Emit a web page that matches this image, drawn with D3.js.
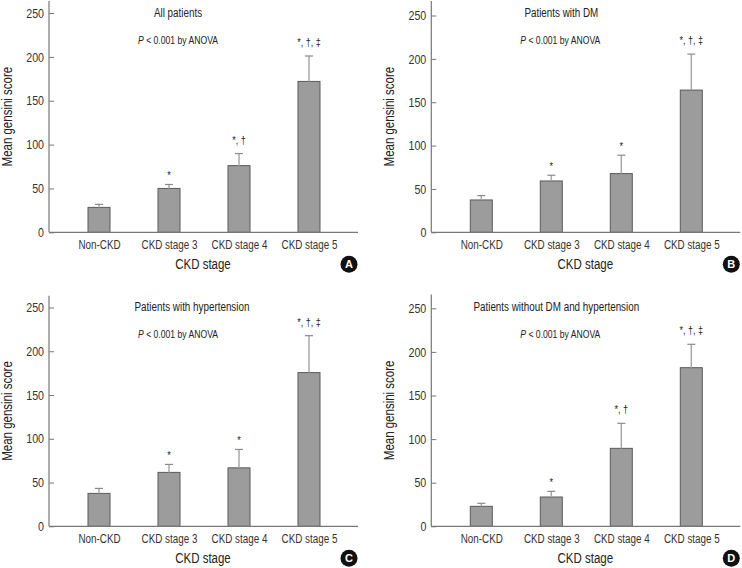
<!DOCTYPE html>
<html>
<head>
<meta charset="utf-8">
<script src="https://cdn.jsdelivr.net/npm/d3@7"></script>
<style>
  html, body { margin: 0; padding: 0; background: #fff; }
  svg { display: block; }
  text { font-family: "Liberation Sans", Arial, sans-serif; fill: #222; }
</style>
</head>
<body>
<svg id="chart" width="742" height="568"></svg>
<script>
// ---- data ----
const categories = ["Non-CKD", "CKD stage 3", "CKD stage 4", "CKD stage 5"];
const yTicks = [0, 50, 100, 150, 200, 250];
const panelTitles = ["All patients", "Patients with DM", "Patients with hypertension", "Patients without DM and hypertension"];
const panelLetters = ["A", "B", "C", "D"];
const pText = "P < 0.001 by ANOVA";
const xTitle = "CKD stage";
const yTitle = "Mean gensini score";

const meanA = [28.4, 50, 76, 172];
const errA  = [3.4, 4.5, 13.8, 29];
const sigA  = ["", "*", "*, †", "*, †, ‡"];

const meanB = [37.3, 59.2, 67.7, 164];
const errB  = [5, 6.6, 21.2, 41.5];
const sigB  = ["", "*", "*", "*, †, ‡"];

const meanC = [37.6, 61.6, 66.8, 175.6];
const errC  = [5.7, 9.1, 21, 42.2];
const sigC  = ["", "*", "*", "*, †, ‡"];

const meanD = [22.9, 33.6, 89.4, 181.9];
const errD  = [3.5, 6.5, 28.7, 26.8];
const sigD  = ["", "*", "*, †", "*, †, ‡"];

const panelMeans = [meanA, meanB, meanC, meanD];
const panelErrs  = [errA, errB, errC, errD];
const panelSigs  = [sigA, sigB, sigC, sigD];

// ---- layout ----
const geom = [
  { x: 49,    y0: 232.3, yTop: 13,    axisTop: 1,     titleDx: 129 },
  { x: 431.3, y0: 232.3, yTop: 15.5,  axisTop: 1,     titleDx: 130 },
  { x: 49,    y0: 526.3, yTop: 307.5, axisTop: 295.7, titleDx: 143 },
  { x: 431.3, y0: 526.3, yTop: 308.3, axisTop: 294.5, titleDx: 125 }
];
const axisLen = 309;
const barW = 22;
const capW = 8;
const condense = 0.82;

const svg = d3.select("#chart");

geom.forEach((g, i) => {
  const means = panelMeans[i], errs = panelErrs[i], sigs = panelSigs[i];
  const y = d3.scaleLinear().domain([0, 250]).range([g.y0, g.yTop]);
  const x = d3.scalePoint().domain(categories).range([g.x + 15, g.x + 295]).padding(0.5);
  const p = svg.append("g");

  // bars
  p.selectAll("rect.bar").data(categories).join("rect")
    .attr("x", d => x(d) - barW / 2)
    .attr("y", (d, j) => y(means[j]))
    .attr("width", barW)
    .attr("height", (d, j) => y(0) - y(means[j]))
    .attr("fill", "#9c9c9c")
    .attr("stroke", "#5a5a5a")
    .attr("stroke-width", 1);

  // error bars (upper only)
  p.selectAll("line.err").data(categories).join("line")
    .attr("x1", d => x(d)).attr("x2", d => x(d))
    .attr("y1", (d, j) => y(means[j]))
    .attr("y2", (d, j) => y(means[j] + errs[j]))
    .attr("stroke", "#a8a8a8").attr("stroke-width", 1.5);
  p.selectAll("line.cap").data(categories).join("line")
    .attr("x1", d => x(d) - capW / 2).attr("x2", d => x(d) + capW / 2)
    .attr("y1", (d, j) => y(means[j] + errs[j]))
    .attr("y2", (d, j) => y(means[j] + errs[j]))
    .attr("stroke", "#8a8a8a").attr("stroke-width", 1.2);

  // significance marks
  p.selectAll("text.sig").data(categories).join("text")
    .attr("class", "sig")
    .attr("x", d => x(d))
    .attr("y", (d, j) => y(means[j] + errs[j]) - (sigs[j].length > 1 ? 10 : 5))
    .attr("text-anchor", "middle")
    .style("font-size", "11px")
    .style("fill", "#222")
    .text((d, j) => sigs[j]);

  // y axis
  const yAxis = d3.axisLeft(y).tickValues(yTicks).tickSize(-5).tickPadding(5).tickFormat(d3.format("d"));
  const ya = p.append("g").attr("transform", `translate(${g.x},0)`).call(yAxis);
  ya.select(".domain").remove();
  ya.selectAll(".tick line").attr("stroke", "#777");
  ya.selectAll(".tick text").style("font-size", "13px").style("fill", "#333");
  p.append("line")
    .attr("x1", g.x).attr("x2", g.x)
    .attr("y1", g.axisTop).attr("y2", y(0))
    .attr("stroke", "#777").attr("stroke-width", 1.2);

  // x axis
  const xAxis = d3.axisBottom(x).tickSize(0).tickPadding(8);
  const xa = p.append("g").attr("transform", `translate(0,${g.y0})`).call(xAxis);
  xa.select(".domain").remove();
  xa.selectAll(".tick text").style("font-size", "12px").style("fill", "#333");
  p.append("line")
    .attr("x1", g.x).attr("x2", g.x + axisLen)
    .attr("y1", y(0)).attr("y2", y(0))
    .attr("stroke", "#777").attr("stroke-width", 1.2);

  // titles
  p.append("text")
    .attr("x", g.x + g.titleDx).attr("y", g.y0 - 220)
    .attr("dy", "0.35em").attr("text-anchor", "middle")
    .style("font-size", "12px")
    .text(panelTitles[i]);
  const pt = p.append("text")
    .attr("x", g.x + 129).attr("y", g.y0 - 192)
    .attr("dy", "0.35em").attr("text-anchor", "middle")
    .style("font-size", "10.5px");
  pt.append("tspan").style("font-style", "italic").text("P");
  pt.append("tspan").text(pText.slice(1));

  p.append("text")
    .attr("x", g.x + 154).attr("y", g.y0 + 37)
    .attr("text-anchor", "middle")
    .style("font-size", "14px")
    .text(xTitle);
  p.append("text")
    .attr("transform", `translate(${g.x - 37},${(g.y0 + g.axisTop) / 2}) rotate(-90)`)
    .attr("text-anchor", "middle")
    .style("font-size", "14px")
    .text(yTitle);

  // panel letter
  p.append("circle")
    .attr("cx", g.x + 300).attr("cy", g.y0 + 32).attr("r", 8.5)
    .attr("fill", "#111");
  p.append("text")
    .attr("class", "letter")
    .attr("x", g.x + 300).attr("y", g.y0 + 32)
    .attr("dy", "0.36em").attr("text-anchor", "middle")
    .style("font-size", "11px").style("font-weight", "bold")
    .style("fill", "#fff")
    .text(panelLetters[i]);
});

// condense all text horizontally (narrow sans look)
svg.selectAll("text").each(function () {
  if (this.classList.contains("letter")) return;
  const L = this.getComputedTextLength();
  if (L > 0) {
    this.setAttribute("textLength", (L * condense).toFixed(2));
    this.setAttribute("lengthAdjust", "spacingAndGlyphs");
  }
});
</script>
</body>
</html>
